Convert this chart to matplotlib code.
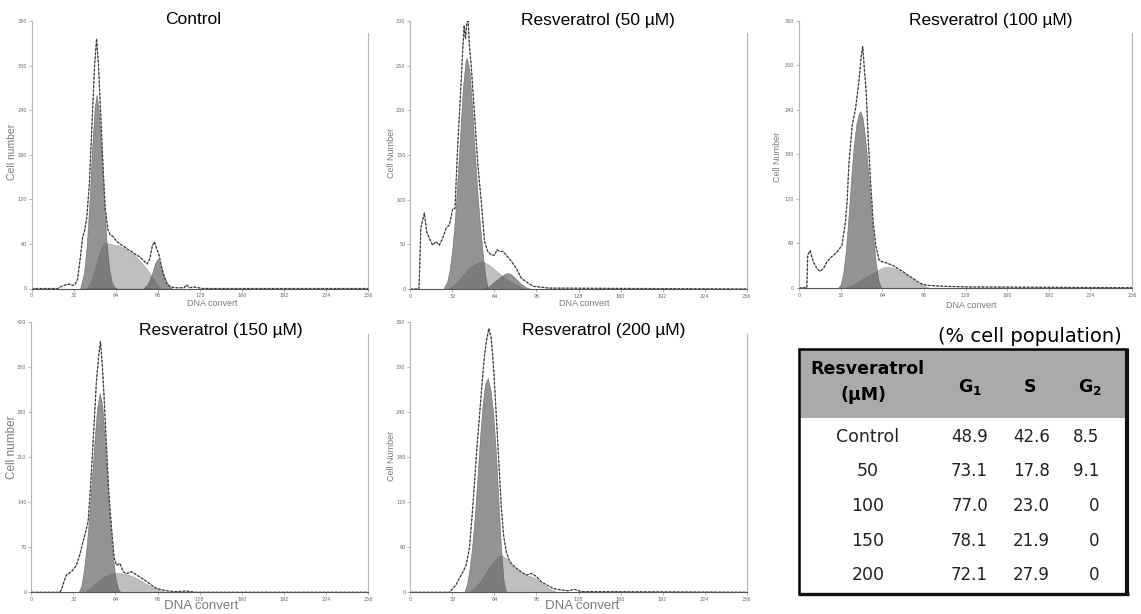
import matplotlib.pyplot as plt
from matplotlib.patches import Rectangle

W, H = 1141, 614  # output size in pixels (dpi 100)

# ---- Control ----
ctrl_raw_ch = [0, 20, 22, 26, 29, 31, 33, 35, 37, 39, 40.5, 42, 44, 46, 48, 49.5, 51, 52.5, 54, 56,
               58, 60, 62, 64, 67, 70, 73, 76, 79, 82, 85, 88, 90, 92, 93.5, 95, 97, 99, 101, 103,
               106, 110, 116, 118, 120, 124, 130, 256]
ctrl_raw = [0, 0, 2, 5, 6, 4, 5, 12, 40, 70, 78, 95, 140, 220, 300, 336, 300, 240, 180, 110,
            80, 72, 70, 65, 60, 57, 53, 50, 46, 43, 38, 33, 40, 58, 63, 55, 45, 28, 15, 6,
            2, 1, 1, 5, 1, 2, 0, 0]
ctrl_g1_ch = [37, 40, 42, 44, 46, 48, 49.5, 51, 53, 55, 57, 59, 61, 63, 65]
ctrl_g1 = [0, 22, 57, 115, 186, 243, 261, 245, 190, 125, 65, 28, 9, 2, 0]
ctrl_s_ch = [42, 45, 48, 51, 54, 56, 58, 62, 66, 70, 74, 78, 82, 86, 89, 92, 95, 98]
ctrl_s = [0, 8, 25, 45, 58, 62, 61, 59, 58, 55, 50, 46, 38, 30, 23, 15, 6, 0]
ctrl_g2_ch = [85, 88, 90, 92, 94, 96, 98, 100, 102, 104, 107]
ctrl_g2 = [0, 5, 12, 22, 34, 40, 34, 22, 12, 5, 0]

# ---- Resveratrol 50 uM ----
r50_raw_ch = [0, 6.5, 7, 8, 10.7, 12.5, 14.5, 17, 19.6, 22, 24.7, 27.2, 29.8, 32.3, 34, 36, 38.7,
              40, 41, 42, 43, 44, 45, 46.3, 48.9, 51.4, 54, 56.5, 59, 61.6, 64.2, 66, 68, 70.5,
              73, 76.9, 80.7, 84.5, 88.3, 93.4, 100, 105, 256]
r50_raw = [0, 0, 16, 68, 85, 64, 57, 49, 53, 49, 57, 68, 72, 90, 90, 158, 232,
           270, 295, 280, 298, 300, 272, 251, 195, 139, 98, 53, 42, 38, 38, 44, 42, 42,
           38, 31, 23, 12, 8, 3, 2, 1, 0]
r50_g1_ch = [25, 28, 30, 32, 34, 36, 38, 40, 42, 43, 45, 47, 49, 51, 53, 55, 57, 59]
r50_g1 = [0, 8, 22, 45, 80, 125, 175, 225, 255, 259, 245, 205, 155, 110, 72, 42, 15, 0]
r50_s_ch = [28, 32, 36, 40, 44, 48, 52, 54, 56, 60, 64, 68, 72, 76, 80, 84, 88]
r50_s = [0, 3, 8, 15, 22, 27, 30, 31, 30, 27, 22, 17, 12, 8, 5, 2, 0]
r50_g2_ch = [55, 60, 64, 68, 72, 74, 76, 80, 84, 88, 92]
r50_g2 = [0, 3, 8, 13, 17, 18, 17, 12, 6, 2, 0]

# ---- Resveratrol 100 uM ----
r100_raw_ch = [0, 6, 6.7, 8.5, 11, 13.7, 16.3, 18.9, 21.5, 24, 26.6, 29.2, 33, 35.7, 37, 38.3,
               40.9, 43.5, 46, 47.9, 49, 50.4, 51.7, 53.3, 55, 57, 59, 61.6, 64, 68, 72, 75.8,
               79.7, 83.6, 87.4, 91.3, 95, 100, 110, 130, 256]
r100_raw = [0, 0, 44, 50, 35, 26, 22, 26, 35, 40, 44, 48, 57, 89, 116, 165,
            219, 242, 277, 313, 325, 291, 264, 197, 143, 89, 57, 37, 35, 33, 30, 26,
            22, 17, 13, 8, 4.5, 3, 2, 1, 0]
r100_g1_ch = [30, 32, 34, 36, 38, 40, 42, 44, 46, 47.3, 49, 51, 53, 55, 57, 59, 61, 63]
r100_g1 = [0, 4, 20, 50, 95, 145, 190, 220, 235, 238, 228, 200, 160, 115, 70, 35, 10, 0]
r100_s_ch = [36, 40, 44, 48, 52, 56, 60, 64, 68, 72, 76, 80, 84, 88, 92, 96, 100]
r100_s = [0, 3, 7, 11, 15, 19, 23, 27, 28, 27, 24, 20, 16, 11, 6, 3, 0]

# ---- Resveratrol 150 uM ----
r150_raw_ch = [0, 21.6, 22.9, 24.9, 26.7, 28.4, 30.5, 32.5, 34.3, 36.8, 39.4, 41.9, 43.2, 45, 47,
               49.5, 51.3, 52.6, 53.8, 55.4, 57.2, 58.9, 61, 63, 64.8, 67.3, 69.9, 72.4, 76.2,
               80, 83.8, 87.6, 91.4, 95.3, 99, 104, 110, 118, 125, 256]
r150_raw = [0, 0, 4, 17, 27, 29, 32, 37, 42, 58, 79, 99, 110, 161, 234,
            327, 368, 389, 358, 301, 224, 156, 99, 53, 42, 45, 32, 29, 32,
            27, 22, 17, 11, 6, 4, 2, 1, 2, 0, 0]
r150_g1_ch = [36, 38, 40, 42, 44, 46, 48, 50, 52, 54, 56, 58, 60, 62, 64, 66, 68]
r150_g1 = [0, 10, 35, 70, 118, 175, 235, 285, 309, 290, 235, 165, 100, 55, 22, 5, 0]
r150_s_ch = [40, 44, 48, 52, 56, 60, 63, 66, 70, 74, 78, 82, 86, 90, 94, 98, 102, 106]
r150_s = [0, 5, 12, 19, 25, 29, 30, 30, 29, 27, 24, 20, 15, 10, 6, 3, 1, 0]

# ---- Resveratrol 200 uM ----
r200_raw_ch = [0, 29.8, 32.3, 34.9, 37.4, 40, 42.5, 45, 47.1, 48.9, 50.7, 52.7, 54.7, 56.5, 58.3,
               59.8, 61.6, 63.4, 65.4, 67.5, 69.3, 71, 73, 75.6, 78.2, 80.7, 84.5, 88.3, 92.2,
               96, 99.8, 103.6, 108.7, 115, 120, 125, 130, 256]
r200_raw = [0, 0, 5, 10, 19, 27, 36, 59, 103, 147, 192, 236, 280, 316, 338,
            351, 338, 298, 236, 169, 112, 76, 54, 41, 36, 32, 27, 23, 25,
            21, 14, 10, 5, 3, 2, 4, 1, 0]
r200_g1_ch = [41, 43, 45, 47, 49, 51, 53, 55, 57, 59, 61, 63, 65, 67, 69, 71, 73]
r200_g1 = [0, 10, 30, 60, 100, 150, 205, 250, 278, 285, 270, 240, 190, 125, 60, 15, 0]
r200_s_ch = [44, 48, 52, 56, 60, 64, 67, 70, 73, 76, 80, 84, 88, 92, 96, 100, 104, 108, 112]
r200_s = [0, 5, 12, 22, 33, 42, 48, 49, 45, 38, 32, 27, 23, 21, 18, 12, 7, 3, 0]

x_ticks = [0, 32, 64, 96, 128, 160, 192, 224, 256]
ticks_60 = [0, 60, 120, 180, 240, 300, 360]
ticks_50 = [0, 50, 100, 150, 200, 250, 300]
ticks_70 = [0, 70, 140, 210, 280, 350, 420]

# table
doses = ['Control', '50', '100', '150', '200']
g1_pct = [48.9, 73.1, 77.0, 78.1, 72.1]
s_pct = [42.6, 17.8, 23.0, 21.9, 27.9]
g2_pct = [8.5, 9.1, 0, 0, 0]


def px_axes(fig, left, top, right, bottom):
    return fig.add_axes([left / W, 1 - bottom / H, (right - left) / W, (bottom - top) / H])


def draw_panel(ax, raw_ch, raw, g1_ch, g1, s_ch, s, yticks, g2_ch=None, g2=None):
    ax.fill_between(s_ch, s, facecolor='#737373', alpha=0.45, edgecolor='#555555', lw=0.4)
    if g2 is not None:
        ax.fill_between(g2_ch, g2, facecolor='#595959', alpha=0.65, edgecolor='#444444', lw=0.4)
    ax.fill_between(g1_ch, g1, facecolor='#595959', alpha=0.65, edgecolor='#444444', lw=0.4)
    ax.plot(raw_ch, raw, color='#a0a0a0', lw=0.6)
    ax.plot(raw_ch, raw, color='#3a3a3a', lw=0.9, ls=(0, (2.0, 1.3)))

    ax.set_xlim(0, 256)
    ax.set_ylim(0, yticks[-1])
    ax.set_xticks(x_ticks)
    ax.set_yticks(yticks)
    ax.tick_params(length=2, width=0.5, colors='#999999', labelcolor='#666666',
                   labelsize=3.5, pad=1.5)
    ax.spines['top'].set_visible(False)
    ax.spines['left'].set_color('#b5b5b5')
    ax.spines['right'].set_color('#b5b5b5')
    ax.spines['right'].set_bounds(0, yticks[-1] * 0.955)
    ax.spines['bottom'].set_color('#555555')
    for sp in ax.spines.values():
        sp.set_linewidth(0.8)


fig = plt.figure(figsize=(W / 100, H / 100), dpi=100)

title_font = dict(family='Liberation Sans', size=12.5, color='black', ha='center', va='center')
lab_font = dict(family='Liberation Sans', color='#7a7a7a', ha='center', va='center')

panels = [
    ((31.5, 21, 368, 288.5), ctrl_raw_ch, ctrl_raw, ctrl_g1_ch, ctrl_g1, ctrl_s_ch, ctrl_s,
     ticks_60, ctrl_g2_ch, ctrl_g2),
    ((410.3, 21, 746.7, 289), r50_raw_ch, r50_raw, r50_g1_ch, r50_g1, r50_s_ch, r50_s,
     ticks_50, r50_g2_ch, r50_g2),
    ((799, 20.7, 1132, 287.7), r100_raw_ch, r100_raw, r100_g1_ch, r100_g1, r100_s_ch, r100_s,
     ticks_60, None, None),
    ((31.3, 321.7, 368, 592.3), r150_raw_ch, r150_raw, r150_g1_ch, r150_g1, r150_s_ch, r150_s,
     ticks_70, None, None),
    ((410.3, 321.7, 746.7, 592.3), r200_raw_ch, r200_raw, r200_g1_ch, r200_g1, r200_s_ch, r200_s,
     ticks_60, None, None),
]
for box, *data in panels:
    ax = px_axes(fig, *box)
    draw_panel(ax, *data)

# panel titles
titles = ['Control', 'Resveratrol (50 µM)', 'Resveratrol (100 µM)',
          'Resveratrol (150 µM)', 'Resveratrol (200 µM)']
title_pos = [(193, 20), (598, 21), (991, 21), (221, 330), (604, 330)]
for t, (x, y) in zip(titles, title_pos):
    fig.text(x / W, 1 - y / H, t, **title_font)

# axis labels
ylabels = ['Cell number', 'Cell Number', 'Cell Number', 'Cell number', 'Cell Number']
ylab_pos = [(12, 152), (392, 153), (777, 157), (12, 447), (392, 456)]
ylab_size = [7.5, 6.5, 6.5, 8.5, 6.5]
for t, (x, y), fs in zip(ylabels, ylab_pos, ylab_size):
    fig.text(x / W, 1 - y / H, t, rotation=90, size=fs, **lab_font)

xlab_pos = [(212, 303), (584, 303), (971, 305), (201, 606), (582, 606)]
xlab_size = [6.5, 6.5, 6.5, 9.5, 9.5]
for (x, y), fs in zip(xlab_pos, xlab_size):
    fig.text(x / W, 1 - y / H, 'DNA convert', size=fs, **lab_font)

# ---- summary table ----
tl, tt, tr, tb = 799, 349, 1127, 594
tax = px_axes(fig, tl, tt, tr, tb)
tax.set_xlim(tl, tr)
tax.set_ylim(tb, tt)
tax.axis('off')
tax.add_patch(Rectangle((tl, tt), tr - tl, 69, facecolor='#aaaaaa', edgecolor='none'))
tax.add_patch(Rectangle((tl, tt), tr - tl, tb - tt, facecolor='none', edgecolor='black',
                        lw=1.8, clip_on=False))
tax.plot([tr, tr], [tt, tb + 1], color='#111111', lw=3, clip_on=False, solid_capstyle='butt')
tax.plot([tl, tr + 1.5], [tb, tb], color='#111111', lw=2.4, clip_on=False, solid_capstyle='butt')

fig.text(1030 / W, 1 - 336 / H, '(% cell population)', family='DejaVu Sans', size=14,
         ha='center', va='center')

hdr = dict(family='DejaVu Sans', size=12.5, weight='bold', ha='center', va='center')
tax.text(867, 369, 'Resveratrol', **hdr)
tax.text(864, 395, '(µM)', **hdr)
tax.text(970, 387, r'$\mathbf{G_1}$', **hdr)
tax.text(1030, 387, 'S', **hdr)
tax.text(1090, 387, r'$\mathbf{G_2}$', **hdr)

row_y0, row_step = 437, 34.5
for i, dose in enumerate(doses):
    y = row_y0 + i * row_step
    tax.text(868, y, dose, family='DejaVu Sans', size=12.5, ha='center', va='center',
             color='#222222')
    for x, v in zip([988, 1050, 1099], [g1_pct[i], s_pct[i], g2_pct[i]]):
        tax.text(x, y, f'{v:.1f}' if v else '0', family='DejaVu Sans', size=12,
                 ha='right', va='center', color='#222222')

fig.savefig('out.png', dpi=100)
